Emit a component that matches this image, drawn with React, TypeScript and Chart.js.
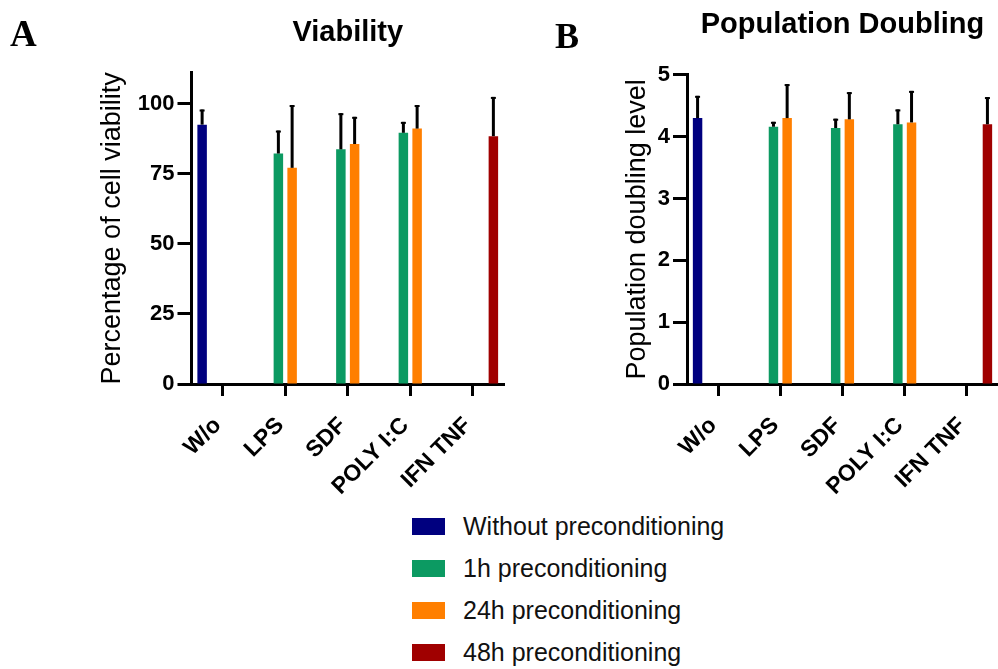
import React, { useEffect, useRef } from 'react';
import { Chart, registerables } from 'chart.js';

Chart.register(...registerables);

const FONT = '"Liberation Sans", Arial, sans-serif';

const categories = ['W/o', 'LPS', 'SDF', 'POLY I:C', 'IFN TNF'];
const seriesNames = [
  'Without preconditioning',
  '1h preconditioning',
  '24h preconditioning',
  '48h preconditioning',
];
const seriesColors = ['#00007f', '#0c9a62', '#ff7f00', '#a00000'];

// Viability (%) means and SD (upper error)
const viabilityWithout = [92.5, null, null, null, null];
const viability1h = [null, 82.2, 83.7, 89.6, null];
const viability24h = [null, 77.1, 85.6, 91.1, null];
const viability48h = [null, null, null, null, 88.4];
const viabilitySdWithout = [5.4, null, null, null, null];
const viabilitySd1h = [null, 8.2, 12.9, 3.9, null];
const viabilitySd24h = [null, 22.4, 9.7, 8.4, null];
const viabilitySd48h = [null, null, null, null, 14.0];
const viabilityTicks = [0, 25, 50, 75, 100];

// Population doubling level means and SD
const doublingWithout = [4.3, null, null, null, null];
const doubling1h = [null, 4.16, 4.14, 4.2, null];
const doubling24h = [null, 4.3, 4.28, 4.23, null];
const doubling48h = [null, null, null, null, 4.2];
const doublingSdWithout = [0.36, null, null, null, null];
const doublingSd1h = [null, 0.08, 0.15, 0.24, null];
const doublingSd24h = [null, 0.55, 0.44, 0.51, null];
const doublingSd48h = [null, null, null, null, 0.44];
const doublingTicks = [0, 1, 2, 3, 4, 5];

type Num = number | null;

interface PanelSpec {
  title: string;
  yTitle: string;
  series: Num[][];
  sds: Num[][];
  ticks: number[];
  yMax: number;
  padLeft: number;
  padRight: number;
  yWidth: number;
  titlePadTop: number;
  titlePadBottom: number;
}

function makeErrorBarPlugin(sds: Num[][]) {
  return {
    id: 'errorBarsCustom',
    afterDatasetsDraw(chart: any) {
      const ctx = chart.ctx;
      const yScale = chart.scales.y;
      ctx.save();
      ctx.strokeStyle = '#000';
      chart.data.datasets.forEach((ds: any, i: number) => {
        const meta = chart.getDatasetMeta(i);
        meta.data.forEach((el: any, j: number) => {
          const v = ds.data[j];
          const sd = sds[i][j];
          if (v == null || sd == null) return;
          const x = el.x;
          const yBar = yScale.getPixelForValue(v);
          const yTop = yScale.getPixelForValue(v + sd);
          ctx.lineWidth = 3;
          ctx.beginPath();
          ctx.moveTo(x, yBar);
          ctx.lineTo(x, yTop);
          ctx.stroke();
          ctx.lineWidth = 2;
          ctx.beginPath();
          ctx.moveTo(x - 2.5, yTop + 1);
          ctx.lineTo(x + 2.5, yTop + 1);
          ctx.stroke();
        });
      });
      ctx.restore();
    },
  };
}

function Panel({ spec, left, width, height }: { spec: PanelSpec; left: number; width: number; height: number }) {
  const ref = useRef<HTMLCanvasElement | null>(null);
  useEffect(() => {
    if (!ref.current) return;
    const chart = new Chart(ref.current, {
      type: 'bar',
      data: {
        labels: categories,
        datasets: spec.series.map((d, i) => ({
          label: seriesNames[i],
          data: d as any,
          backgroundColor: seriesColors[i],
          borderWidth: 0,
          barPercentage: 0.69,
          categoryPercentage: 0.88,
        })),
      },
      options: {
        responsive: false,
        animation: false,
        devicePixelRatio: 1,
        layout: { padding: { left: spec.padLeft, right: spec.padRight, top: 0, bottom: 0 } },
        plugins: {
          legend: { display: false },
          tooltip: { enabled: false },
          title: {
            display: true,
            text: spec.title,
            fullSize: false,
            color: '#000',
            font: { family: FONT, size: 29, weight: 'bold' },
            padding: { top: spec.titlePadTop, bottom: spec.titlePadBottom },
          },
        },
        scales: {
          x: {
            offset: true,
            grid: {
              offset: false,
              drawOnChartArea: false,
              drawTicks: true,
              tickLength: 12,
              tickWidth: 3,
              tickColor: '#000',
            },
            border: { display: true, width: 3, color: '#000' },
            ticks: {
              color: '#000',
              font: { family: FONT, size: 23, weight: 'bold' },
              maxRotation: 45,
              minRotation: 45,
              autoSkip: false,
              padding: 16,
              labelOffset: -5,
            },
            afterFit: (s: any) => {
              s.height = 116;
              s.paddingLeft = 0;
              s.paddingRight = 0;
            },
          },
          y: {
            min: 0,
            max: spec.yMax,
            afterBuildTicks: (s: any) => {
              s.ticks = spec.ticks.map((v) => ({ value: v }));
            },
            afterFit: (s: any) => {
              s.width = spec.yWidth;
            },
            grid: {
              drawOnChartArea: false,
              drawTicks: true,
              tickLength: 14,
              tickWidth: 3,
              tickColor: '#000',
            },
            border: { display: true, width: 3, color: '#000' },
            ticks: {
              color: '#000',
              font: { family: FONT, size: 22, weight: 'bold' },
              padding: 3,
            },
            title: {
              display: true,
              text: spec.yTitle,
              color: '#000',
              font: { family: FONT, size: 27 },
              padding: 0,
            },
          },
        },
      } as any,
      plugins: [makeErrorBarPlugin(spec.sds)],
    });
    return () => chart.destroy();
  }, [spec]);
  return (
    <canvas
      ref={ref}
      width={width}
      height={height}
      style={{ position: 'absolute', left, top: 0, width, height }}
    />
  );
}

const viabilitySpec: PanelSpec = {
  title: 'Viability',
  yTitle: 'Percentage of cell viability',
  series: [viabilityWithout, viability1h, viability24h, viability48h],
  sds: [viabilitySdWithout, viabilitySd1h, viabilitySd24h, viabilitySd48h],
  ticks: viabilityTicks,
  yMax: 111,
  padLeft: 96.5,
  padRight: 16,
  yWidth: 95,
  titlePadTop: 16,
  titlePadBottom: 22,
};

const doublingSpec: PanelSpec = {
  title: 'Population Doubling',
  yTitle: 'Population doubling level',
  series: [doublingWithout, doubling1h, doubling24h, doubling48h],
  sds: [doublingSdWithout, doublingSd1h, doublingSd24h, doublingSd48h],
  ticks: doublingTicks,
  yMax: 5,
  padLeft: 81,
  padRight: 0,
  yWidth: 66,
  titlePadTop: 8,
  titlePadBottom: 32,
};

const legendRowCenters = [526, 568, 610, 652];

export default function App() {
  return (
    <div
      style={{
        position: 'absolute',
        left: 0,
        top: 0,
        width: 998,
        height: 669,
        overflow: 'hidden',
        background: '#fff',
      }}
    >
      <Panel spec={viabilitySpec} left={0} width={520} height={500} />
      <Panel spec={doublingSpec} left={540} width={458} height={500} />
      <div
        style={{
          position: 'absolute',
          left: 10,
          top: 12,
          fontFamily: '"Liberation Serif", "Times New Roman", serif',
          fontWeight: 'bold',
          fontSize: 37,
          lineHeight: '44px',
        }}
      >
        A
      </div>
      <div
        style={{
          position: 'absolute',
          left: 555,
          top: 14,
          fontFamily: '"Liberation Serif", "Times New Roman", serif',
          fontWeight: 'bold',
          fontSize: 36,
          lineHeight: '44px',
        }}
      >
        B
      </div>
      {seriesNames.map((name, i) => (
        <div
          key={name}
          style={{
            position: 'absolute',
            left: 412,
            top: legendRowCenters[i] - 15,
            height: 30,
            display: 'flex',
            alignItems: 'center',
            fontFamily: FONT,
            fontSize: 25,
            color: '#111',
            whiteSpace: 'nowrap',
          }}
        >
          <span
            style={{
              display: 'inline-block',
              width: 33,
              height: 17,
              background: seriesColors[i],
              marginRight: 18,
            }}
          />
          <span>{name}</span>
        </div>
      ))}
    </div>
  );
}
